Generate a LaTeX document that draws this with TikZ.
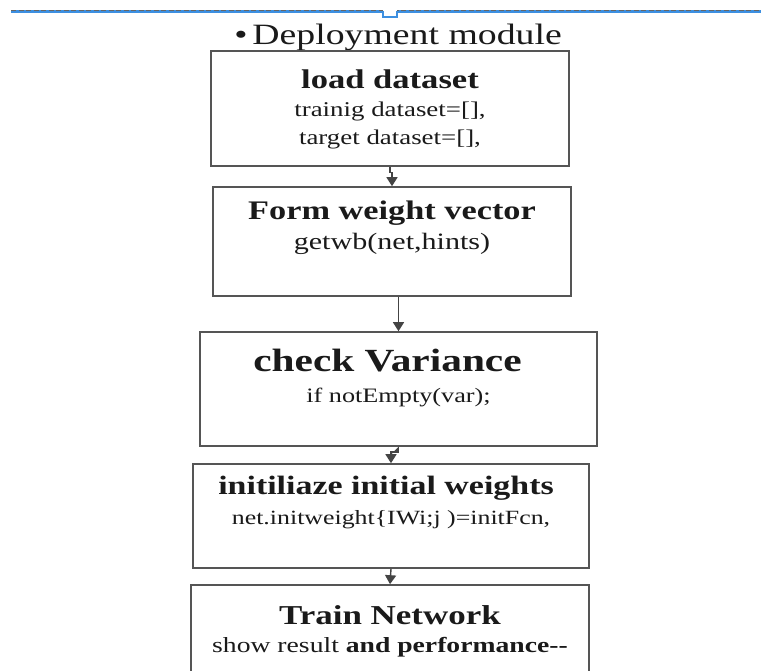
\documentclass[tikz,border=0pt]{standalone}
\usepackage{fontspec}
\setmainfont[FakeStretch=1.28]{Liberation Serif}
\usetikzlibrary{arrows.meta, positioning}
\definecolor{lineblue}{HTML}{3D8FE0}
\definecolor{dashgray}{HTML}{666666}
\definecolor{boxgray}{HTML}{555555}
\definecolor{inkblack}{HTML}{1A1A1A}

\begin{document}
\begin{tikzpicture}[x=1pt, y=1pt,
  >={Triangle[length=9pt, width=11pt]},
  stage/.style 2 args={draw=boxgray, line width=1.6pt, fill=white,
    minimum width=#1, minimum height=#2, inner sep=0pt},
  stagetext/.style={inner sep=0pt, align=center, anchor=north, text=inkblack,
    font=\fontsize{21}{29}\selectfont},
  arr/.style={->, line width=1.4pt, draw=boxgray!80!black, fill=boxgray!80!black},
]

% Frame of the page
\clip (0,0) rectangle (761,-671);
\fill[white] (0,0) rectangle (761,-671);

% Top rule with the small notch
\draw[lineblue, line width=2.2pt] (11,-11.5) -- (761,-11.5);
\draw[dashgray, line width=1pt, dash pattern=on 5pt off 2.5pt] (11,-10.5) -- (761,-10.5);
\fill[white] (383,-9) rectangle (397,-17);
\draw[lineblue, line width=1.4pt] (383,-11) -- (383,-17) -- (397,-17) -- (397,-11);

% Heading
\node[font=\fontsize{29.5}{34}\selectfont, text=inkblack, anchor=base] (head) at (398,-45)
  {\textbullet\,Deployment module};

% =============================================
% Stages
% =============================================
\node[stage={358pt}{115pt}] (load) at (390,-108.5) {};
\node[stage={358pt}{109pt}] (form) at (392,-241.5) {};
\node[stage={397pt}{114pt}] (check) at (398.5,-389) {};
\node[stage={396pt}{104pt}] (init) at (391,-516) {};
\node[stage={398pt}{115pt}] (train) at (390,-642.5) {};

\node[stagetext, font=\fontsize{21}{28}\selectfont, below=19pt of load.north] (loadtxt)
  {{\fontsize{27}{28}\selectfont\bfseries load dataset}\\
   trainig dataset=[],\\ target dataset=[],};

\node[stagetext, font=\fontsize{23.5}{30}\selectfont, below=15pt of form.north] (formtxt)
  {{\fontsize{26.8}{30}\selectfont\bfseries Form weight vector}\\
   getwb(net,hints)};

\node[stagetext, font=\fontsize{20.5}{31}\selectfont, below=18pt of check.north] (checktxt)
  {{\fontsize{32.3}{31}\selectfont\bfseries check Variance}\hspace*{22pt}\\
   if notEmpty(var);};

\node[stagetext, font=\fontsize{20.2}{30}\selectfont, below=13pt of init.north] (inittxt)
  {{\fontsize{26.5}{30}\selectfont\bfseries initiliaze initial weights}\hspace*{10pt}\\
   net.initweight\{IWi;j )=initFcn,};

\node[stagetext, font=\fontsize{21.6}{28}\selectfont, below=21.5pt of train.north] (traintxt)
  {{\fontsize{27.3}{28}\selectfont\bfseries Train Network}\\
   show result \textbf{and performance-{}-}};

% =============================================
% Arrows between stages
% =============================================
\draw[arr] (load.south) -- ++(0,-6) -| (form.north);
\draw[arr] (check.north |- form.south) -- (check.north);
\draw[arr] (check.south) -- ++(0,-5) -| (init.north);
\draw[arr] (init.south) -- (train.north);

\end{tikzpicture}
\end{document}
